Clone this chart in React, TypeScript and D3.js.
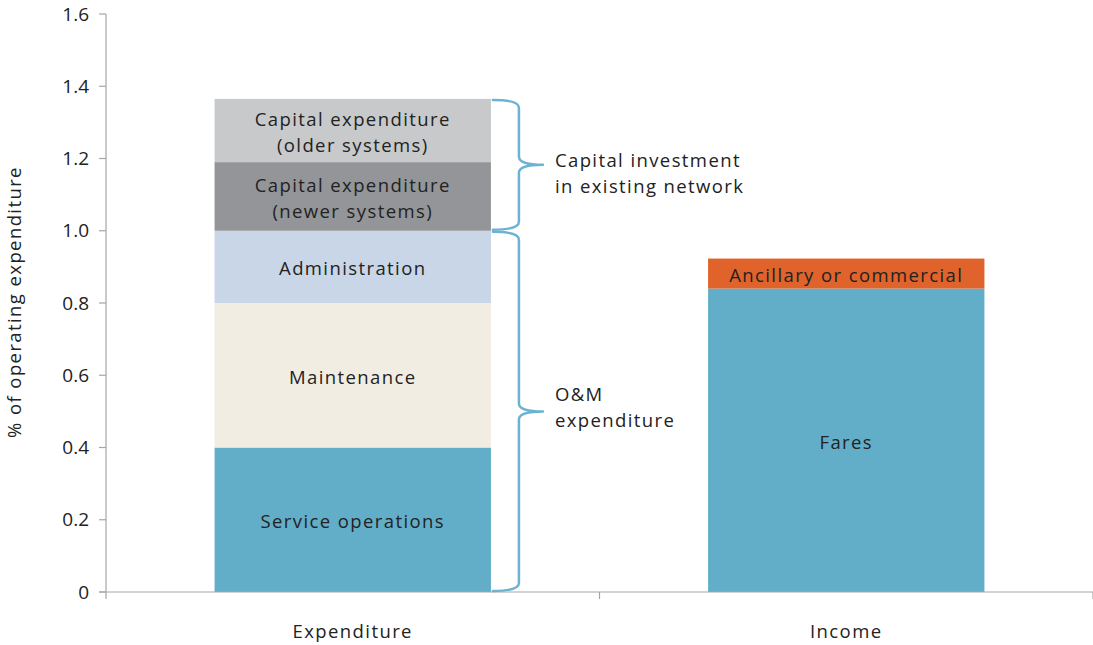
import React from 'react';
import * as d3 from 'd3';

const categories = ["Expenditure", "Income"];
const expenditureLabels = [["Service operations"], ["Maintenance"], ["Administration"], ["Capital expenditure", "(newer systems)"], ["Capital expenditure", "(older systems)"]];
const expenditureValues = [0.4, 0.4, 0.2, 0.19, 0.175];
const expenditureColors = ["#62aec9", "#f2ede2", "#c8d6e8", "#939598", "#c8c9cb"];
const incomeLabels = [["Fares"], ["Ancillary or commercial"]];
const incomeValues = [0.84, 0.083];
const incomeColors = ["#62aec9", "#df632b"];
const yTicks = [0, 0.2, 0.4, 0.6, 0.8, 1.0, 1.2, 1.4, 1.6];
const braces = [
  {from: 0, to: 1.0, lines: ["O&M", "expenditure"]},
  {from: 1.0, to: 1.365, lines: ["Capital investment", "in existing network"]},
];

const W = 1093, H = 645;
const left = 106, right = 1093, top = 14, bottom = 592;
const font = "'Open Sans', sans-serif";
const fs = 18.5;
const ls = 1.4;

export default function App() {
  const x = d3.scaleBand().domain(categories).range([left, right]).paddingInner(0.44).paddingOuter(0.22);
  const y = d3.scaleLinear().domain([0, 1.6]).range([bottom, top]);
  const bw = x.bandwidth();

  const stacks = [
    {cat: "Expenditure", labels: expenditureLabels, values: expenditureValues, colors: expenditureColors},
    {cat: "Income", labels: incomeLabels, values: incomeValues, colors: incomeColors},
  ];

  const xTicks = [left, (x("Expenditure")! + bw + x("Income")!) / 2, right];

  const bx = x("Expenditure")! + bw + 2;
  const bracePath = (y0: number, y1: number) => {
    const xa = bx, xv = bx + 26, xt = bx + 50;
    const ym = (y0 + y1) / 2;
    const r = 8;
    return `M${xa},${y0} Q${xv},${y0} ${xv},${y0 + r} L${xv},${ym - r} Q${xv},${ym} ${xt},${ym} ` +
      `M${xt},${ym} Q${xv},${ym} ${xv},${ym + r} L${xv},${y1 - r} Q${xv},${y1} ${xa},${y1}`;
  };
  // vertical shift of each brace label relative to the brace tip
  const braceLabelShift = [-4, 9];

  return (
    <svg width={W} height={H} style={{position: 'absolute', left: 0, top: 0}} fontFamily={font}>
      {stacks.map(s => {
        const ends = d3.cumsum(s.values);
        return s.values.map((v, i) => {
          const y1 = ends[i], y0 = y1 - v;
          const cy = (y(y0) + y(y1)) / 2 + 2;
          const n = s.labels[i].length;
          return (
            <g key={s.cat + i}>
              <rect x={x(s.cat)} y={y(y1)} width={bw} height={y(y0) - y(y1)} fill={s.colors[i]} />
              <text x={x(s.cat)! + bw / 2} y={cy} textAnchor="middle" fontSize={fs} letterSpacing={ls} fill="#222">
                {s.labels[i].map((t, j) => (
                  <tspan key={j} x={x(s.cat)! + bw / 2} y={cy + (j - (n - 1) / 2) * 26} dy="0.35em">{t}</tspan>
                ))}
              </text>
            </g>
          );
        });
      })}

      {/* y axis */}
      <line x1={left} x2={left} y1={top} y2={bottom} stroke="#a6a6a6" strokeWidth={1.2} />
      {yTicks.map(t => (
        <g key={t}>
          <line x1={left - 7} x2={left} y1={y(t)} y2={y(t)} stroke="#a6a6a6" strokeWidth={1.2} />
          <text x={left - 17} y={y(t)} dy="0.35em" textAnchor="end" fontSize={19} fill="#222">
            {t === 0 ? "0" : d3.format(".1f")(t)}
          </text>
        </g>
      ))}
      {/* x axis */}
      <line x1={left - 7} x2={right} y1={bottom} y2={bottom} stroke="#a6a6a6" strokeWidth={1.2} />
      {xTicks.map((t, i) => (
        <line key={i} x1={t} x2={t} y1={bottom} y2={bottom + 7} stroke="#a6a6a6" strokeWidth={1.2} />
      ))}
      {categories.map(c => (
        <text key={c} x={x(c)! + bw / 2} y={632} dy="0.35em" textAnchor="middle" fontSize={fs} letterSpacing={ls} fill="#222">{c}</text>
      ))}
      <text transform={`translate(15,302) rotate(-90)`} textAnchor="middle" dy="0.35em" fontSize={fs} letterSpacing={ls} fill="#222">
        % of operating expenditure
      </text>

      {/* braces */}
      {braces.map((b, i) => {
        const y0 = y(b.to), y1 = y(b.from);
        const ym = (y0 + y1) / 2;
        return (
          <g key={i}>
            <path d={bracePath(y0 + 1, y1 - 1)} fill="none" stroke="#6cb2d2" strokeWidth={2.5} strokeLinecap="round" />
            {b.lines.map((t, j) => (
              <text key={j} x={bx + 62} y={ym + braceLabelShift[i] + (j - 0.5) * 26} dy="0.35em" fontSize={fs} letterSpacing={ls} fill="#222">{t}</text>
            ))}
          </g>
        );
      })}
    </svg>
  );
}
